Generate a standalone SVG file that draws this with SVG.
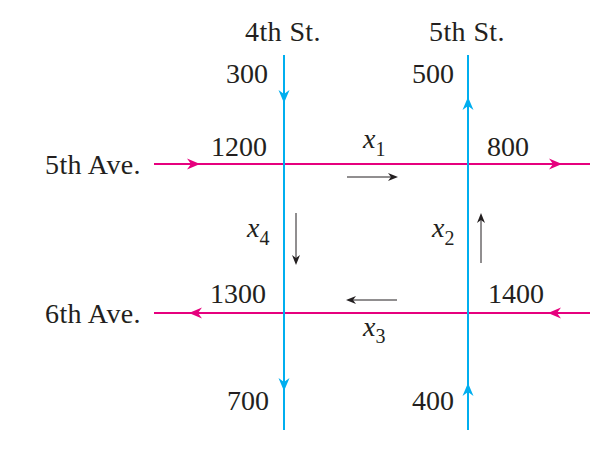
<svg xmlns="http://www.w3.org/2000/svg" xmlns:xlink="http://www.w3.org/1999/xlink" width="590" height="460" viewBox="0 0 590 460">
<style>
text{font-family:"Liberation Serif","Times New Roman",serif;fill:#231f20}
.lbl{font-size:28px;letter-spacing:0.4px}
.num{font-size:28px}
.var{font-size:28px}
.var .i{font-style:italic}
.var .s{font-size:20px}
.ave{stroke:#e6007e;stroke-width:2;fill:none}
.st{stroke:#00aeef;stroke-width:2;fill:none}
.pk{fill:#e6007e}
.bl{fill:#00aeef}
.sm{stroke:#231f20;stroke-width:1;fill:none}
.bk{fill:#231f20}
</style>
<defs>
<path id="ah" d="M0,0 L-13,-5.5 L-9,0 L-13,5.5 Z"/>
<path id="sh" d="M0,0 L-10,-4 L-7,0 L-10,4 Z"/>
</defs>
<rect width="590" height="460" fill="#fff"/>
<g id="connectors">
<line class="ave" x1="154" y1="164" x2="590" y2="164"/>
<line class="ave" x1="154" y1="313" x2="590" y2="313"/>
<line class="st" x1="284" y1="55" x2="284" y2="430"/>
<line class="st" x1="468" y1="55" x2="468" y2="430"/>
<use xlink:href="#ah" class="pk" transform="translate(200,164)"/>
<use xlink:href="#ah" class="pk" transform="translate(562,164)"/>
<use xlink:href="#ah" class="pk" transform="translate(189,313) rotate(180)"/>
<use xlink:href="#ah" class="pk" transform="translate(548,313) rotate(180)"/>
<use xlink:href="#ah" class="bl" transform="translate(284,103) rotate(90)"/>
<use xlink:href="#ah" class="bl" transform="translate(284,391) rotate(90)"/>
<use xlink:href="#ah" class="bl" transform="translate(468,97) rotate(-90)"/>
<use xlink:href="#ah" class="bl" transform="translate(468,383) rotate(-90)"/>
<line class="sm" x1="347" y1="177" x2="394" y2="177"/>
<use xlink:href="#sh" class="bk" transform="translate(398,177)"/>
<line class="sm" x1="296" y1="213" x2="296" y2="261"/>
<use xlink:href="#sh" class="bk" transform="translate(296,265) rotate(90)"/>
<line class="sm" x1="481" y1="263" x2="481" y2="217"/>
<use xlink:href="#sh" class="bk" transform="translate(481,213) rotate(-90)"/>
<line class="sm" x1="397" y1="300" x2="350" y2="300"/>
<use xlink:href="#sh" class="bk" transform="translate(346,300) rotate(180)"/>
</g>
<g id="street-4th"><text class="lbl" x="245" y="41">4th St.</text></g>
<g id="street-5th"><text class="lbl" x="429" y="41">5th St.</text></g>
<g id="ave-5th"><text class="lbl" x="45" y="174">5th Ave.</text></g>
<g id="ave-6th"><text class="lbl" x="45" y="323">6th Ave.</text></g>
<g id="n300"><text class="num" x="226" y="83">300</text></g>
<g id="n500"><text class="num" x="412" y="83">500</text></g>
<g id="n1200"><text class="num" x="211" y="156">1200</text></g>
<g id="n800"><text class="num" x="487" y="156">800</text></g>
<g id="n1300"><text class="num" x="210" y="303">1300</text></g>
<g id="n1400"><text class="num" x="488" y="303">1400</text></g>
<g id="n700"><text class="num" x="227" y="410">700</text></g>
<g id="n400"><text class="num" x="412" y="410">400</text></g>
<g id="x1"><text class="var" x="363" y="148"><tspan class="i">x</tspan><tspan class="s" dy="8">1</tspan></text></g>
<g id="x2"><text class="var" x="432" y="237"><tspan class="i">x</tspan><tspan class="s" dy="8">2</tspan></text></g>
<g id="x3"><text class="var" x="363" y="336"><tspan class="i">x</tspan><tspan class="s" dy="7">3</tspan></text></g>
<g id="x4"><text class="var" x="247" y="237"><tspan class="i">x</tspan><tspan class="s" dy="8">4</tspan></text></g>
</svg>
